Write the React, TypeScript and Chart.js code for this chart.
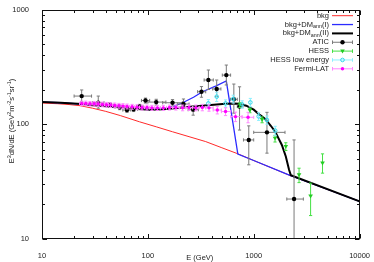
import React, { useEffect, useRef } from 'react';
import { Chart, registerables } from 'chart.js';

Chart.register(...registerables);

const FONT = '"Liberation Sans", Arial, Helvetica, sans-serif';

// ---- tick labels ----
const xTickValues = [10, 100, 1000, 10000];
const yTickValues = [10, 100, 1000];
const xTitle = 'E (GeV)';
const yTitle = 'E^{3}dN/dE (GeV^{2}m^{-2}s^{-1}sr^{-1})';

// ---- model curves ----
const bkgE = [10, 14, 18, 23, 30, 40, 55, 83.5, 120, 171, 250, 352, 500, 700, 1000, 2200, 5000, 10000];
const bkgV = [153, 151, 148.5, 145, 138, 129.5, 119, 105, 95, 86, 77.5, 70.6, 62.4, 55.5, 48.3, 35.8, 27.0, 21.3];

const dm1E = [10, 15, 23.7, 30, 43.7, 60, 80, 104, 138, 170, 213, 270, 328, 437, 551, 708, 1000, 2200, 5000, 10000];
const dm1V = [156, 154, 150, 146.5, 142.6, 139, 136, 134, 137, 142, 154, 172, 192, 215, 238, 55, 48.3, 35.8, 27.0, 21.3];

const dm2E = [10, 15, 23.7, 30, 43.7, 60, 80, 104, 140, 200, 304, 420, 542, 650, 723, 850, 1000, 1150, 1286, 1450, 1597, 1844, 2010, 2157, 2240, 10000];
const dm2V = [156, 154, 150, 146.5, 142.6, 139, 136, 134, 135, 139, 144, 148, 151, 152, 151, 145, 134, 120, 111, 97, 86, 66, 52.4, 40.1, 36.0, 21.3];

// ---- ATIC ----
const aticE = [23.7, 34, 43.7, 54.2, 63.5, 73.4, 83.5, 95, 120, 171, 217, 268, 321, 373, 447, 551, 649, 735, 898, 1334, 2405];
const aticV = [176, 154, 147, 140.6, 133, 135, 142.6, 161, 156, 154, 150, 134, 192, 243, 203, 268, 165, 143, 73, 85, 22.3];
const aticXLo = [20.1, 30, 39.5, 49, 58, 68, 78, 87, 100, 138, 190, 240, 295, 340, 410, 505, 605, 700, 800, 1000, 2054];
const aticXHi = [29.4, 38.5, 48, 60, 69, 80, 90, 104, 148, 212, 245, 300, 352, 415, 490, 605, 700, 790, 1000, 1975, 2944];
const aticYLo = [157, 138, 140, 134, 127, 129, 136, 153, 147, 144, 138, 120, 172, 201, 174, 220, 125, 89, 44.3, 56, 5];
const aticYHi = [199, 176, 154, 147, 139, 141, 149, 169, 165, 164, 166, 145, 213, 297, 243, 328, 224, 212, 96.8, 127, 73];

// ---- HESS ----
const hessE = [740, 920, 1200, 1590, 2010, 2681, 3447, 4467];
const hessV = [147, 132, 109.6, 75.5, 64, 36.2, 23.6, 45.8];
const hessYLo = [140, 126, 103, 70, 59, 31, 16, 37.5];
const hessYHi = [154, 138, 116, 80, 69, 41.4, 30.7, 55.2];

// ---- HESS low energy ----
const hessLowE = [373, 447, 542, 640, 778, 930, 1114, 1334, 1597];
const hessLowV = [152, 174, 152, 166, 149, 155, 117, 109, 88];
const hessLowYLo = [140, 158, 141, 153, 138, 142, 108, 100, 80];
const hessLowYHi = [164, 190, 163, 179, 160, 168, 126, 118, 96];

// ---- Fermi-LAT ----
const fermiE = [23.7, 25.9, 28.4, 31.1, 33.9, 37.2, 40.7, 44.4, 48.7, 53.3, 58.2, 63.7, 71, 79.1, 88.1, 98.2, 109.3, 123, 140, 160, 184, 213, 245, 284, 327, 378, 453, 542, 673, 884];
const fermiV = [152, 152, 151, 151, 150, 149, 148, 147, 146, 145, 144, 143, 142, 141, 140, 140, 139, 139, 139, 140, 140, 139, 140, 139, 140, 139, 133, 129, 116.5, 115];
const fermiErr = [7, 7, 7, 7, 7, 7, 7, 7, 7, 7, 7, 7, 7, 7, 7, 7, 7, 7, 7, 7, 7, 8, 8, 8, 9, 9, 10, 10, 11, 12];
const fermiEdges = [22.6, 24.8, 27.1, 29.7, 32.5, 35.5, 38.9, 42.5, 46.5, 51, 55.7, 61, 67.2, 75, 83.5, 93, 104, 116, 131, 150, 172, 198, 228, 264, 305, 352, 414, 495, 606, 776, 1000];

const RED = '#ff2a2a';
const BLUE = '#2b2bff';
const BLACK = '#000000';

type Part = { t: string; k: 'n' | 'sup' | 'sub' };
function parseRich(s: string): Part[] {
  const parts: Part[] = [];
  const re = /([\^_])\{([^}]*)\}/g;
  let last = 0;
  let m: RegExpExecArray | null;
  while ((m = re.exec(s))) {
    if (m.index > last) parts.push({ t: s.slice(last, m.index), k: 'n' });
    parts.push({ t: m[2], k: m[1] === '^' ? 'sup' : 'sub' });
    last = m.index + m[0].length;
  }
  if (last < s.length) parts.push({ t: s.slice(last), k: 'n' });
  return parts;
}
function richWidth(ctx: CanvasRenderingContext2D, parts: Part[], size: number) {
  let w = 0;
  for (const p of parts) {
    ctx.font = `${p.k === 'n' ? size : size * 0.72}px ${FONT}`;
    w += ctx.measureText(p.t).width;
  }
  return w;
}
function drawRich(ctx: CanvasRenderingContext2D, parts: Part[], x: number, y: number, size: number) {
  let cx = x;
  ctx.textBaseline = 'middle';
  ctx.textAlign = 'left';
  for (const p of parts) {
    const fs = p.k === 'n' ? size : size * 0.72;
    ctx.font = `${fs}px ${FONT}`;
    const dy = p.k === 'sup' ? -size * 0.38 : p.k === 'sub' ? size * 0.3 : 0;
    ctx.fillText(p.t, cx, y + dy);
    cx += ctx.measureText(p.t).width;
  }
}

function drawMarker(ctx: CanvasRenderingContext2D, style: string, x: number, y: number, r: number, color: string) {
  ctx.save();
  ctx.fillStyle = color;
  ctx.strokeStyle = color;
  ctx.lineWidth = 1;
  ctx.beginPath();
  if (style === 'triangle') {
    ctx.moveTo(x - r, y - r * 0.7);
    ctx.lineTo(x + r, y - r * 0.7);
    ctx.lineTo(x, y + r);
    ctx.closePath();
    ctx.fill();
  } else if (style === 'open') {
    ctx.arc(x, y, r, 0, Math.PI * 2);
    ctx.stroke();
  } else {
    ctx.arc(x, y, r, 0, Math.PI * 2);
    ctx.fill();
  }
  ctx.restore();
}

const errorBarPlugin = {
  id: 'errorBars',
  beforeDatasetDraw(chart: any, args: any) {
    const ds = chart.data.datasets[args.index];
    if (!ds.errColor) return;
    const { ctx, chartArea } = chart;
    const xs = chart.scales.x;
    const ys = chart.scales.y;
    ctx.save();
    ctx.beginPath();
    ctx.rect(chartArea.left, chartArea.top, chartArea.right - chartArea.left, chartArea.bottom - chartArea.top);
    ctx.clip();
    ctx.strokeStyle = ds.errColor;
    ctx.lineWidth = 1;
    const cap = 1.6;
    for (const p of ds.data) {
      const px = xs.getPixelForValue(p.x);
      const py = ys.getPixelForValue(p.y);
      ctx.beginPath();
      if (p.yMin != null) {
        const y1 = ys.getPixelForValue(p.yMin);
        const y2 = ys.getPixelForValue(p.yMax);
        ctx.moveTo(px, y1); ctx.lineTo(px, y2);
        ctx.moveTo(px - cap, y1); ctx.lineTo(px + cap, y1);
        ctx.moveTo(px - cap, y2); ctx.lineTo(px + cap, y2);
      }
      if (p.xMin != null) {
        const x1 = xs.getPixelForValue(p.xMin);
        const x2 = xs.getPixelForValue(p.xMax);
        ctx.moveTo(x1, py); ctx.lineTo(x2, py);
        ctx.moveTo(x1, py - cap); ctx.lineTo(x1, py + cap);
        ctx.moveTo(x2, py - cap); ctx.lineTo(x2, py + cap);
      }
      ctx.stroke();
    }
    ctx.restore();
  },
  afterDatasetDraw(chart: any, args: any) {
    const ds = chart.data.datasets[args.index];
    if (!ds.markerStyle) return;
    const { ctx, chartArea } = chart;
    const xs = chart.scales.x;
    const ys = chart.scales.y;
    ctx.save();
    ctx.beginPath();
    ctx.rect(chartArea.left, chartArea.top, chartArea.right - chartArea.left, chartArea.bottom - chartArea.top);
    ctx.clip();
    for (const p of ds.data) {
      drawMarker(ctx, ds.markerStyle, xs.getPixelForValue(p.x), ys.getPixelForValue(p.y), ds.markerSize, ds.markerColor);
    }
    ctx.restore();
  },
};

const framePlugin = {
  id: 'frame',
  afterDraw(chart: any) {
    const { ctx, chartArea } = chart;
    const { left, right, top, bottom } = chartArea;
    const xs = chart.scales.x;
    const ys = chart.scales.y;
    const L = Math.round(left) + 0.5, R = Math.round(right) - 0.5, T = Math.round(top) + 0.5, B = Math.round(bottom) - 0.5;
    ctx.save();
    ctx.strokeStyle = '#111';
    ctx.lineWidth = 1;
    ctx.strokeRect(L, T, R - L, B - T);
    ctx.beginPath();
    for (let d = 10; d < 10000; d *= 10) {
      for (let m = 1; m <= 10; m++) {
        const v = d * m;
        if (v > 10000) continue;
        const len = m === 1 || m === 10 ? 4.5 : 2.5;
        const px = Math.round(xs.getPixelForValue(v)) + 0.5;
        ctx.moveTo(px, B); ctx.lineTo(px, B - len);
        ctx.moveTo(px, T); ctx.lineTo(px, T + len);
      }
    }
    for (let d = 10; d < 1000; d *= 10) {
      for (let m = 1; m <= 10; m++) {
        const v = d * m;
        const len = m === 1 || m === 10 ? 4.5 : 2.5;
        const py = Math.round(ys.getPixelForValue(v)) + 0.5;
        ctx.moveTo(L, py); ctx.lineTo(L + len, py);
        ctx.moveTo(R, py); ctx.lineTo(R - len, py);
      }
    }
    ctx.stroke();

    // axis titles
    ctx.fillStyle = '#222';
    ctx.font = `7.5px ${FONT}`;
    ctx.textAlign = 'center';
    ctx.textBaseline = 'middle';
    ctx.fillText(xTitle, (left + right) / 2 - 1, 257.5);

    const yParts = parseRich(yTitle);
    const w = richWidth(ctx, yParts, 7.5);
    ctx.save();
    ctx.translate(12, 121);
    ctx.rotate(-Math.PI / 2);
    drawRich(ctx, yParts, -w / 2, 0, 7.5);
    ctx.restore();

    // legend
    const textRight = 329;
    const sL = 332, sR = 353;
    const y0 = 15.7, dy = 8.85;
    chart.data.datasets.forEach((ds: any, i: number) => {
      const y = y0 + dy * i;
      const parts = parseRich(ds.label);
      const tw = richWidth(ctx, parts, 7.5);
      ctx.fillStyle = '#222';
      drawRich(ctx, parts, textRight - tw, y, 7.5);
      if (!ds.errColor) {
        ctx.strokeStyle = ds.borderColor;
        ctx.lineWidth = ds.borderWidth;
        ctx.beginPath();
        ctx.moveTo(sL, y); ctx.lineTo(sR, y);
        ctx.stroke();
      } else {
        ctx.strokeStyle = ds.errColor;
        ctx.lineWidth = 1;
        ctx.beginPath();
        ctx.moveTo(sL, y); ctx.lineTo(sR, y);
        ctx.moveTo(sL + 0.5, y - 1.8); ctx.lineTo(sL + 0.5, y + 1.8);
        ctx.moveTo(sR - 0.5, y - 1.8); ctx.lineTo(sR - 0.5, y + 1.8);
        ctx.stroke();
        drawMarker(ctx, ds.markerStyle, (sL + sR) / 2, y, ds.markerSize, ds.markerColor);
      }
    });
    ctx.restore();
  },
};

export default function App() {
  const ref = useRef<HTMLCanvasElement | null>(null);
  useEffect(() => {
    document.body.style.margin = '0';
    const canvas = ref.current;
    if (!canvas) return;
    const line = (E: number[], V: number[]) => E.map((x, i) => ({ x, y: V[i] }));
    const chart = new Chart(canvas, {
      type: 'scatter',
      data: {
        datasets: [
          { label: 'bkg', data: line(bkgE, bkgV), showLine: true, borderColor: RED, borderWidth: 1, pointRadius: 0, order: 7 } as any,
          { label: 'bkg+DM_{ann}(I)', data: line(dm1E, dm1V), showLine: true, borderColor: BLUE, borderWidth: 1.3, pointRadius: 0, order: 6 } as any,
          { label: 'bkg+DM_{ann}(II)', data: line(dm2E, dm2V), showLine: true, borderColor: BLACK, borderWidth: 2, pointRadius: 0, order: 5 } as any,
          {
            label: 'ATIC', order: 4, pointRadius: 0, showLine: false,
            data: aticE.map((x, i) => ({ x, y: aticV[i], xMin: aticXLo[i], xMax: aticXHi[i], yMin: aticYLo[i], yMax: aticYHi[i] })),
            errColor: '#7a7a7a', markerStyle: 'circle', markerSize: 2.2, markerColor: '#000',
          } as any,
          {
            label: 'HESS', order: 3, pointRadius: 0, showLine: false,
            data: hessE.map((x, i) => ({ x, y: hessV[i], yMin: hessYLo[i], yMax: hessYHi[i] })),
            errColor: '#44e044', markerStyle: 'triangle', markerSize: 2.3, markerColor: '#22cc22',
          } as any,
          {
            label: 'HESS low energy', order: 2, pointRadius: 0, showLine: false,
            data: hessLowE.map((x, i) => ({ x, y: hessLowV[i], yMin: hessLowYLo[i], yMax: hessLowYHi[i] })),
            errColor: '#8cf0ff', markerStyle: 'open', markerSize: 1.8, markerColor: '#30d8e8',
          } as any,
          {
            label: 'Fermi-LAT', order: 1, pointRadius: 0, showLine: false,
            data: fermiE.map((x, i) => ({ x, y: fermiV[i], xMin: fermiEdges[i], xMax: fermiEdges[i + 1], yMin: fermiV[i] - fermiErr[i], yMax: fermiV[i] + fermiErr[i] })),
            errColor: '#ff88ff', markerStyle: 'circle', markerSize: 1.7, markerColor: '#ff00ff',
          } as any,
        ],
      },
      options: {
        animation: false,
        responsive: false,
        devicePixelRatio: 1,
        layout: { padding: { top: 9, right: 12, left: 0, bottom: 0 } },
        plugins: { legend: { display: false }, tooltip: { enabled: false } },
        scales: {
          x: {
            type: 'logarithmic', min: 10, max: 10000,
            grid: { display: false }, border: { display: false },
            afterBuildTicks: (s: any) => { s.ticks = xTickValues.map((v) => ({ value: v })); },
            afterFit: (s: any) => { s.height = 23; },
            ticks: { font: { family: FONT, size: 7.5 }, color: '#222', padding: 4, maxRotation: 0, autoSkip: false, callback: (v: any) => String(v) },
          },
          y: {
            type: 'logarithmic', min: 10, max: 1000,
            grid: { display: false }, border: { display: false },
            afterBuildTicks: (s: any) => { s.ticks = yTickValues.map((v) => ({ value: v })); },
            afterFit: (s: any) => { s.width = 42; },
            ticks: { font: { family: FONT, size: 7.5 }, color: '#222', padding: 5, autoSkip: false, callback: (v: any) => String(v) },
          },
        },
      } as any,
      plugins: [errorBarPlugin, framePlugin],
    });
    return () => chart.destroy();
  }, []);
  return <canvas ref={ref} width={374} height={262} style={{ display: 'block', width: 374, height: 262 }} />;
}
